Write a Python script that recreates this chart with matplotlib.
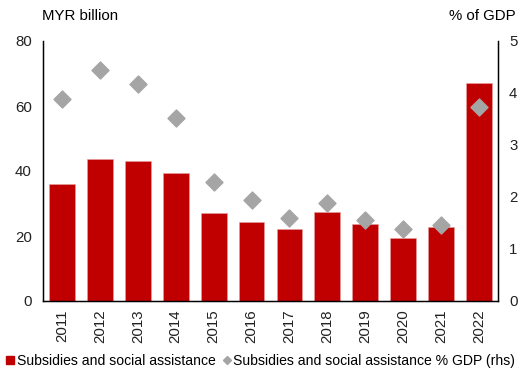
import matplotlib.pyplot as plt
from matplotlib.lines import Line2D

plt.rcParams["font.family"] = ["Liberation Sans", "DejaVu Sans"]

years = ["2011", "2012", "2013", "2014", "2015", "2016", "2017", "2018", "2019", "2020", "2021", "2022"]
subsidies_myr_bn = [35.9, 43.7, 43.1, 39.5, 27.0, 24.3, 22.1, 27.3, 23.7, 19.4, 22.7, 67.0]
subsidies_pct_gdp = [3.88, 4.44, 4.17, 3.51, 2.29, 1.95, 1.59, 1.88, 1.56, 1.38, 1.47, 3.73]

RED = "#C00000"
GREY = "#A5A5A5"
FS = 10.8

fig = plt.figure(figsize=(5.30, 3.74), dpi=100)
ax = fig.add_axes([43 / 530, 1 - 301 / 374, 455 / 530, 260 / 374])
ax2 = ax.twinx()

x = list(range(len(years)))
ax.bar(x, subsidies_myr_bn, width=0.68, color=RED, edgecolor="#E8A0A0", linewidth=0.4, zorder=2)
ax2.scatter(x, subsidies_pct_gdp, marker="D", s=75, color=GREY, zorder=3)

ax.set_xlim(-0.5, len(years) - 0.5)
ax.set_ylim(0, 80)
ax.set_yticks([0, 20, 40, 60, 80])
ax2.set_ylim(0, 5)
ax2.set_yticks([0, 1, 2, 3, 4, 5])
ax.set_xticks(x)
ax.set_xticklabels(years, rotation=90)

for a in (ax, ax2):
    a.spines["top"].set_visible(False)
    a.tick_params(length=0, labelsize=FS, colors="#222222", pad=8)
for s in ("left", "right", "bottom"):
    ax2.spines[s].set_color("black")
    ax2.spines[s].set_linewidth(1.0)
ax.spines["left"].set_color("black")
ax.tick_params(axis="x", pad=6)

fig.text(42 / 530, 1 - 16 / 374, "MYR billion", fontsize=FS, va="center", ha="left")
fig.text(516 / 530, 1 - 16 / 374, "% of GDP", fontsize=FS, va="center", ha="right")

handles = [
    Line2D([], [], marker="s", linestyle="", color=RED, markersize=6),
    Line2D([], [], marker="D", linestyle="", color=GREY, markersize=4),
]
labels = ["Subsidies and social assistance", "Subsidies and social assistance % GDP (rhs)"]
fig.legend(handles, labels, loc="center left", bbox_to_anchor=(-0.012, 1 - 361 / 374), ncol=2,
           frameon=False, fontsize=10.1, handlelength=0.6, handletextpad=0.15, columnspacing=0.5)

fig.savefig("out.png", dpi=100, facecolor="white")
